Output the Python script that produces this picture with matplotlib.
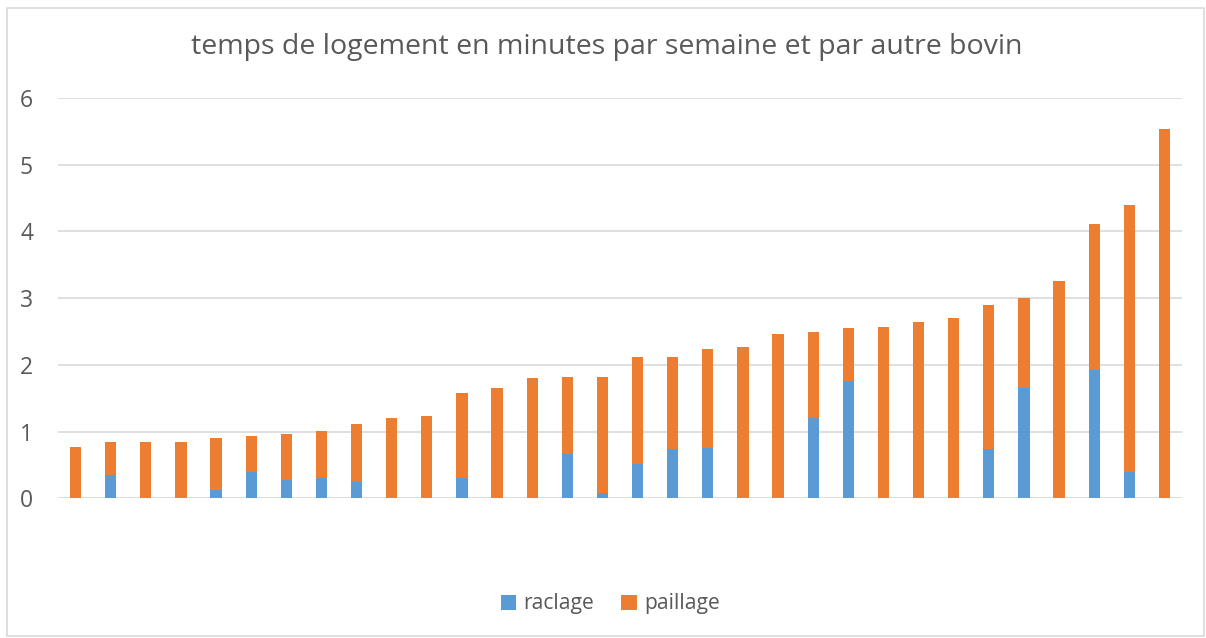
import numpy as np
import matplotlib.pyplot as plt
from matplotlib.patches import Rectangle

# hauteur totale des barres (raclage + paillage)
total = [0.77, 0.84, 0.84, 0.84, 0.91, 0.93, 0.97, 1.01, 1.11, 1.21, 1.24,
         1.58, 1.66, 1.80, 1.82, 1.82, 2.12, 2.12, 2.24, 2.27, 2.46, 2.50,
         2.55, 2.57, 2.65, 2.70, 2.89, 3.00, 3.26, 4.11, 4.40, 5.54]
raclage = [0, 0.35, 0, 0, 0.13, 0.39, 0.27, 0.30, 0.24, 0, 0,
           0.30, 0, 0, 0.67, 0.08, 0.52, 0.74, 0.76, 0, 0, 1.20,
           1.76, 0, 0, 0, 0.74, 1.65, 0, 1.92, 0.39, 0]
paillage = [round(t - r, 2) for t, r in zip(total, raclage)]

bleu = '#5B9BD5'
orange = '#ED7D31'
gris = '#595959'

plt.rcParams['font.family'] = ['Open Sans', 'DejaVu Sans']

fig = plt.figure(figsize=(12.06, 6.38), dpi=100)
ax = fig.add_axes([58/1206, 1 - 498.3/638, 1124/1206, 400.3/638])

x = np.arange(len(total))
ax.bar(x, raclage, width=0.32, color=bleu, label='raclage', zorder=3)
ax.bar(x, paillage, width=0.32, bottom=raclage, color=orange, label='paillage', zorder=3)

ax.set_xlim(-0.5, len(total) - 0.5)
ax.set_ylim(0, 6)
ax.set_yticks(range(0, 7))
ax.set_xticks([])
ax.grid(axis='y', color='#D9D9D9', linewidth=1.2, zorder=0)
for s in ax.spines.values():
    s.set_visible(False)
ax.tick_params(axis='y', length=0, labelsize=16.5, labelcolor=gris, pad=18)

fig.text(0.503, 1 - 47/638, 'temps de logement en minutes par semaine et par autre bovin',
         ha='center', va='center', fontsize=20.5, color=gris)

leg = fig.legend(loc='center', bbox_to_anchor=(0.506, 1 - 604/638), ncol=2,
                 frameon=False, fontsize=15.2, handlelength=0.72, handleheight=0.72,
                 handletextpad=0.35, columnspacing=1.3)
for t in leg.get_texts():
    t.set_color(gris)

# cadre gris autour du graphique
fig.patches.append(Rectangle((7/1206, 2/638), 1197/1206, 628/638, transform=fig.transFigure,
                             fill=False, edgecolor='#D9D9D9', linewidth=1.2))

fig.savefig('out.png', dpi=100)
